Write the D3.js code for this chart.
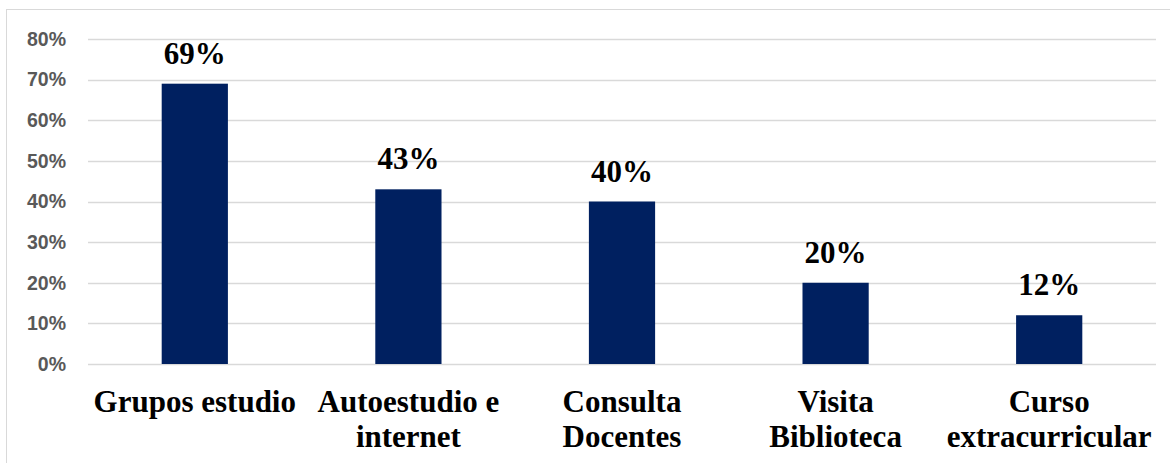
<!DOCTYPE html>
<html>
<head>
<meta charset="utf-8">
<script src="https://cdn.jsdelivr.net/npm/d3@7"></script>
<style>
  html, body { margin: 0; padding: 0; background: #fff; }
  svg { display: block; }
</style>
</head>
<body>
<svg id="chart" width="1170" height="463"></svg>
<script>
// Study resources used by students (share of respondents, %)
const categories = [
  ["Grupos estudio"],
  ["Autoestudio e", "internet"],
  ["Consulta", "Docentes"],
  ["Visita", "Biblioteca"],
  ["Curso", "extracurricular"]
];
const values = [69, 43, 40, 20, 12];
const yTicks = [0, 10, 20, 30, 40, 50, 60, 70, 80];

const svg = d3.select("#chart");
const W = 1170, H = 463;

// chart frame (left and top edges visible)
svg.append("rect")
  .attr("x", 6.5).attr("y", 9.5)
  .attr("width", W + 10).attr("height", H + 10)
  .attr("fill", "#fff")
  .attr("stroke", "#d9d9d9").attr("stroke-width", 1);

const plot = { left: 88, right: 1156, top: 39, bottom: 364 };

const x = d3.scaleBand()
  .domain(d3.range(values.length))
  .range([plot.left, plot.right])
  .paddingInner(0.69)
  .paddingOuter(0.345);

const y = d3.scaleLinear()
  .domain([0, 80])
  .range([plot.bottom, plot.top]);

// gridlines
svg.append("g")
  .selectAll("line")
  .data(yTicks)
  .join("line")
  .attr("x1", plot.left).attr("x2", plot.right)
  .attr("y1", d => Math.round(y(d)) + 0.5)
  .attr("y2", d => Math.round(y(d)) + 0.5)
  .attr("stroke", "#d9d9d9").attr("stroke-width", 1.5);

// y-axis tick labels
const yAxis = d3.axisLeft(y)
  .tickValues(yTicks)
  .tickFormat(d => d + "%")
  .tickSize(0)
  .tickPadding(0);

const yg = svg.append("g")
  .attr("transform", `translate(${66},0)`)
  .call(yAxis);
yg.select(".domain").remove();
yg.selectAll("text")
  .attr("fill", "#595959")
  .attr("font-family", "'Liberation Sans', Arial, sans-serif")
  .attr("font-weight", "bold")
  .attr("font-size", "19.5px");

// bars
svg.append("g")
  .selectAll("rect")
  .data(values)
  .join("rect")
  .attr("x", (d, i) => x(i))
  .attr("width", x.bandwidth())
  .attr("y", d => y(d))
  .attr("height", d => y(0) - y(d))
  .attr("fill", "#002060");

// value labels
svg.append("g")
  .selectAll("text")
  .data(values)
  .join("text")
  .attr("x", (d, i) => x(i) + x.bandwidth() / 2)
  .attr("y", d => y(d) - 20)
  .attr("text-anchor", "middle")
  .attr("font-family", "'Liberation Serif', 'Times New Roman', serif")
  .attr("font-weight", "bold")
  .attr("font-size", "31px")
  .attr("fill", "#000")
  .text(d => d + "%");

// category labels
const xg = svg.append("g");
categories.forEach((lines, i) => {
  const t = xg.append("text")
    .attr("x", x(i) + x.bandwidth() / 2)
    .attr("y", 412)
    .attr("text-anchor", "middle")
    .attr("font-family", "'Liberation Serif', 'Times New Roman', serif")
    .attr("font-weight", "bold")
    .attr("font-size", "31px")
    .attr("fill", "#000");
  lines.forEach((ln, j) => {
    t.append("tspan")
      .attr("x", x(i) + x.bandwidth() / 2)
      .attr("dy", j === 0 ? 0 : 35)
      .text(ln);
  });
});
</script>
</body>
</html>
